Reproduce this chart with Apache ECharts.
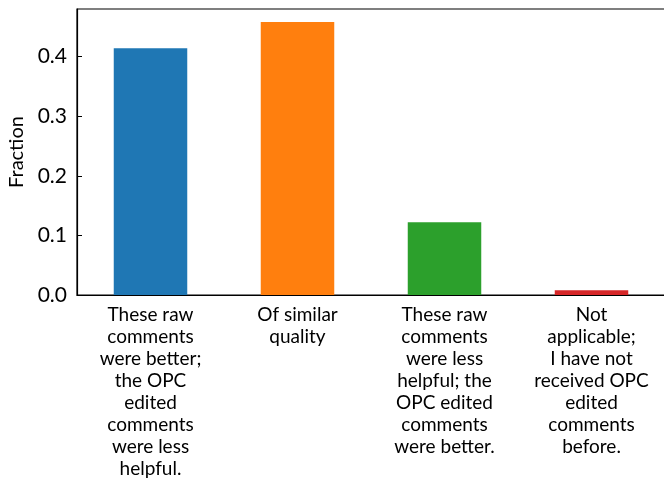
<!DOCTYPE html>
<html>
<head>
<meta charset="utf-8">
<script src="https://cdn.jsdelivr.net/npm/echarts@6/dist/echarts.min.js"></script>
<style>html,body{margin:0;padding:0;background:#fff}#c{width:664px;height:478px}</style>
</head>
<body>
<div id="c"></div>
<script>
const categories = [
  "These raw\ncomments\nwere better;\nthe OPC\nedited\ncomments\nwere less\nhelpful.",
  "Of similar\nquality",
  "These raw\ncomments\nwere less\nhelpful; the\nOPC edited\ncomments\nwere better.",
  "Not\napplicable;\nI have not\nreceived OPC\nedited\ncomments\nbefore."
];
const fractions = [0.414, 0.458, 0.122, 0.008];
const barColors = ["#1f77b4", "#ff7f0e", "#2ca02c", "#d62728"];
const yTicks = [0, 0.1, 0.2, 0.3, 0.4];

const FONT = "Lato";
const chart = echarts.init(document.getElementById('c'), null, {renderer: 'canvas'});
chart.setOption({
  backgroundColor: '#fff',
  animation: false,
  grid: {left: 77, top: 9, width: 588, height: 286, show: true, borderColor: '#000', borderWidth: 1.2,
         containLabel: false, outerBoundsMode: 'none'},
  xAxis: {
    type: 'category',
    data: categories,
    axisLine: {lineStyle: {color: '#000', width: 1.2}},
    axisTick: {inside: true, alignWithLabel: true, length: 4, lineStyle: {color: '#000'}},
    axisLabel: {color: '#000', fontFamily: FONT, fontSize: 19, lineHeight: 22, margin: 9, interval: 0, align: 'center'}
  },
  yAxis: {
    type: 'value',
    min: 0, max: 0.48, interval: 0.1,
    name: 'Fraction', nameLocation: 'middle', nameGap: 50, nameRotate: 90,
    nameTextStyle: {color: '#000', fontFamily: FONT, fontSize: 20},
    splitLine: {show: false},
    axisLine: {show: true, lineStyle: {color: '#000', width: 1.2}},
    axisTick: {show: true, inside: true, length: 5, lineStyle: {color: '#000'}},
    axisLabel: {color: '#000', fontFamily: FONT, fontSize: 21, margin: 10, showMaxLabel: false,
      formatter: v => yTicks.some(t => Math.abs(t - v) < 1e-9) ? v.toFixed(1) : ''}
  },
  series: [{
    type: 'bar',
    barWidth: '50%',
    data: fractions.map((v, i) => ({value: v, itemStyle: {color: barColors[i]}}))
  }]
});
</script>
</body>
</html>
